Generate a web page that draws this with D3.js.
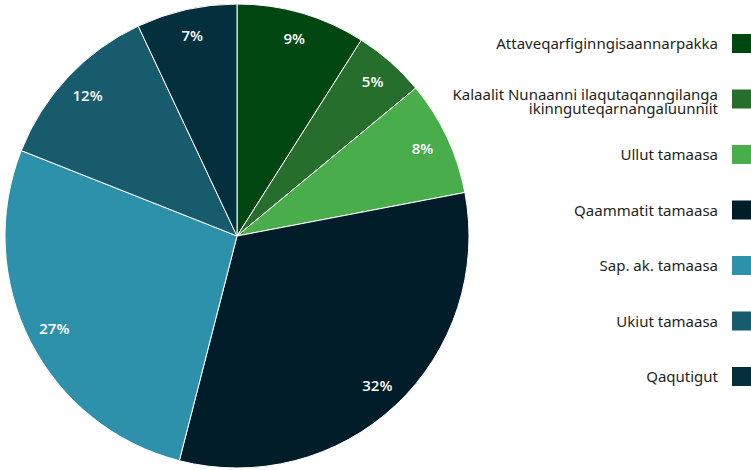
<!DOCTYPE html>
<html>
<head>
<meta charset="utf-8">
<script src="https://cdn.jsdelivr.net/npm/d3@7"></script>
<style>
  body { margin: 0; background: #fff; }
  svg { display: block; }
</style>
</head>
<body>
<div id="chart"></div>
<script>
const categories = [
  "Attaveqarfiginngisaannarpakka",
  "Kalaalit Nunaanni ilaqutaqanngilanga|ikinnguteqarnangaluunniit",
  "Ullut tamaasa",
  "Qaammatit tamaasa",
  "Sap. ak. tamaasa",
  "Ukiut tamaasa",
  "Qaqutigut"
];
const values = [9, 5, 8, 32, 27, 12, 7];
const colors = ["#004711", "#266e2c", "#4aad4b", "#011d2a", "#2e91ac", "#175b6d", "#04303e"];

const w = 751, h = 470;
const cx = 237, cy = 236, r = 232;

const svg = d3.select("#chart")
  .append("svg")
  .attr("width", w)
  .attr("height", h);

const pie = d3.pie().sort(null).value(d => d.value);
const arcs = pie(values.map((v, i) => ({ value: v, name: categories[i], color: colors[i] })));

const arc = d3.arc().innerRadius(0).outerRadius(r);
const labelArc = d3.arc().innerRadius(205).outerRadius(205);

const g = svg.append("g").attr("transform", `translate(${cx},${cy})`);

g.selectAll("path")
  .data(arcs)
  .join("path")
  .attr("d", arc)
  .attr("fill", d => d.data.color)
  .attr("stroke", "#fff")
  .attr("stroke-width", 1);

g.selectAll("text")
  .data(arcs)
  .join("text")
  .attr("transform", d => `translate(${labelArc.centroid(d)})`)
  .attr("text-anchor", "middle")
  .attr("dy", "0.35em")
  .style("font-family", "'Open Sans', sans-serif")
  .style("font-weight", "600")
  .style("font-size", "15px")
  .attr("fill", "#fff")
  .text(d => d.data.value + "%");

// legend
const legendY = d3.scalePoint()
  .domain(categories)
  .range([44, 377]);

const legend = svg.append("g")
  .selectAll("g")
  .data(categories)
  .join("g")
  .attr("transform", d => `translate(0,${legendY(d)})`);

legend.append("rect")
  .attr("x", 732)
  .attr("y", -10)
  .attr("width", 19)
  .attr("height", 19)
  .attr("fill", (d, i) => colors[i]);

legend.append("text")
  .attr("text-anchor", "end")
  .style("font-family", "'Noto Sans', sans-serif")
  .style("font-size", "15px")
  .attr("fill", "#231f20")
  .each(function(d) {
    const lines = d.split("|");
    const t = d3.select(this);
    lines.forEach((line, j) => {
      t.append("tspan")
        .attr("x", 718)
        .attr("y", (j - (lines.length - 1) / 2) * 14 + (lines.length > 1 ? 2 : 0))
        .attr("dy", "0.35em")
        .text(line);
    });
  });
</script>
</body>
</html>
